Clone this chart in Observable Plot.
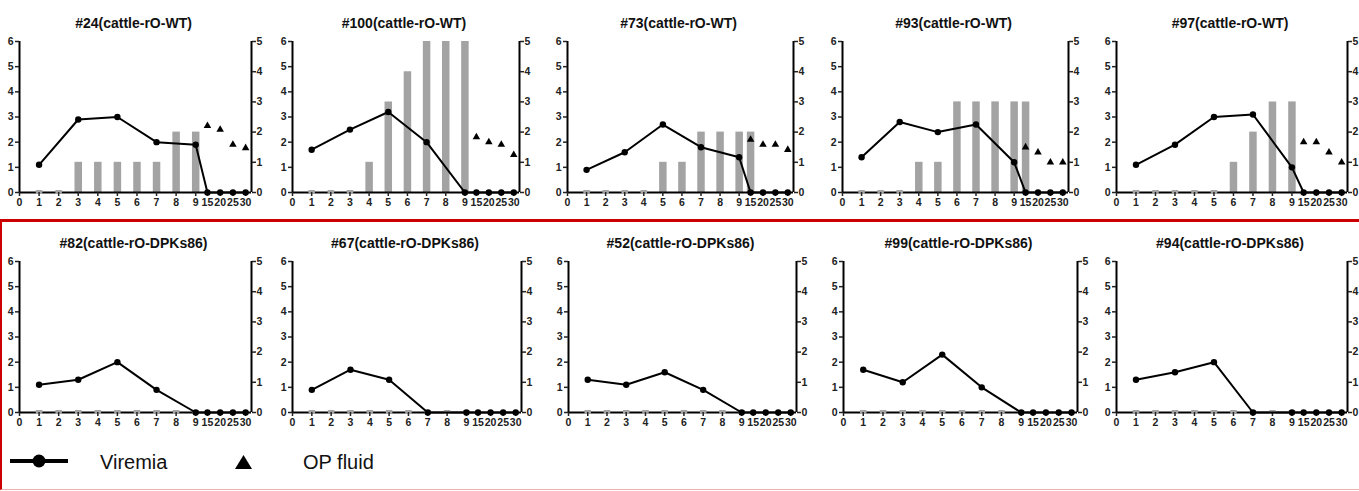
<!DOCTYPE html>
<html><head><meta charset="utf-8">
<script src="https://cdn.jsdelivr.net/npm/d3@7"></script>
<script src="https://cdn.jsdelivr.net/npm/@observablehq/plot@0.6"></script>
<style>
html,body{margin:0;padding:0;background:#fff;}
#wrap{position:relative;width:1359px;height:491px;overflow:hidden;font-family:"Liberation Sans",Arial,sans-serif;}
.panel{position:absolute;}
#box{position:absolute;left:0;top:219px;width:1370px;height:271px;box-sizing:border-box;border-top:3px solid #cc0000;border-left:2px solid #cc0000;border-bottom:1px solid #f0b0b0;}
#legend{position:absolute;left:0;top:430px;}
</style></head>
<body><div id="wrap"><div id="box"></div></div>
<script>
// ---- data ----
const tickDays = [0,1,2,3,4,5,6,7,8,9,15,20,25,30];
const viremiaDays = [1,3,5,7,9,15,20,25,30];
const lesionDays = [1,2,3,4,5,6,7,8,9,15];
const opDays = [15,20,25,30];

const titles = ["#24(cattle-rO-WT)","#100(cattle-rO-WT)","#73(cattle-rO-WT)","#93(cattle-rO-WT)","#97(cattle-rO-WT)",
  "#82(cattle-rO-DPKs86)","#67(cattle-rO-DPKs86)","#52(cattle-rO-DPKs86)","#99(cattle-rO-DPKs86)","#94(cattle-rO-DPKs86)"];

const viremia24 = [1.1,2.9,3.0,2.0,1.9,0,0,0,0];
const viremia100 = [1.7,2.5,3.2,2.0,0,0,0,0,0];
const viremia73 = [0.9,1.6,2.7,1.8,1.4,0,0,0,0];
const viremia93 = [1.4,2.8,2.4,2.7,1.2,0,0,0,0];
const viremia97 = [1.1,1.9,3.0,3.1,1.0,0,0,0,0];
const viremia82 = [1.1,1.3,2.0,0.9,0,0,0,0,0];
const viremia67 = [0.9,1.7,1.3,0,0,0,0,0,0];
const viremia52 = [1.3,1.1,1.6,0.9,0,0,0,0,0];
const viremia99 = [1.7,1.2,2.3,1.0,0,0,0,0,0];
const viremia94 = [1.3,1.6,2.0,0,0,0,0,0,0];

// lesion score (right axis, 0-5)
const lesion24 = [0,0,1,1,1,1,1,2,2,null];
const lesion100 = [0,0,0,1,3,4,5,5,5,null];
const lesion73 = [0,0,0,0,1,1,2,2,2,2];
const lesion93 = [0,0,0,1,1,3,3,3,3,3];
const lesion97 = [0,0,0,0,0,1,2,3,3,null];
const lesionNone = [0,0,0,0,0,0,0,0,0,null];

// OP fluid (left axis units)
const op24 = [2.65,2.5,1.9,1.77];
const op100 = [2.2,2.0,1.9,1.5];
const op73 = [2.1,1.9,1.9,1.7];
const op93 = [1.8,1.6,1.2,1.2];
const op97 = [2.0,2.0,1.6,1.2];
const opNone = [];

const viremiaSets = [viremia24,viremia100,viremia73,viremia93,viremia97,viremia82,viremia67,viremia52,viremia99,viremia94];
const lesionSets = [lesion24,lesion100,lesion73,lesion93,lesion97,lesionNone,lesionNone,lesionNone,lesionNone,lesionNone];
const opSets = [op24,op100,op73,op93,op97,opNone,opNone,opNone,opNone,opNone];

// ---- layout ----
const axisLeftX = [19,292,567,842,1116, 19,292,568,843,1116];
const axisRightX = [251,519,793,1068,1347, 251,521,796,1077,1347];
const rowTop = [0,0,0,0,0, 220,220,220,220,220];
const mL = 22, mR = 20, mT = 41, mB = 22, innerH = 151;
const k = 6/5; // right axis -> left axis
const xMax = 11.85;
// broken x axis: 0..9 evenly, then 15..30 compressed
const brk = d => d <= 9 ? d : 9.6 + (d - 15) / 5 * 0.65;
const tickLabel = new Map(tickDays.map(d => [brk(d), String(d)]));
const gray = "#a3a3a3";

const wrap = document.getElementById("wrap");
titles.forEach((title, i) => {
  const vData = viremiaDays.map((day, j) => ({day, v: viremiaSets[i][j]}));
  const lData = lesionDays.map((day, j) => ({day, v: lesionSets[i][j]})).filter(d => d.v !== null);
  const oData = opSets[i].map((v, j) => ({day: opDays[j], v}));
  const width = mL + (axisRightX[i] - axisLeftX[i]) + mR;
  const chart = Plot.plot({
    width, height: mT + innerH + mB,
    marginLeft: mL, marginRight: mR, marginTop: mT, marginBottom: mB,
    style: {fontFamily: "'Liberation Sans', Arial, sans-serif", fontSize: "10.5px", fontWeight: "bold", color: "#222", background: "transparent", overflow: "visible"},
    x: {domain: [0, xMax]},
    y: {domain: [0, 6]},
    marks: [
      Plot.ruleX(lData.filter(d => d.v > 0), {x: d => brk(d.day), y1: 0, y2: d => d.v * k, stroke: gray, strokeWidth: 7.5}),
      Plot.ruleX([0], {stroke: "black", strokeWidth: 2}),
      Plot.ruleX([xMax], {stroke: "black", strokeWidth: 2}),
      Plot.ruleY([0], {stroke: "black", strokeWidth: 2}),
      Plot.ruleX(lData.filter(d => d.v === 0), {x: d => brk(d.day), y1: -0.08, y2: 0.08, stroke: gray, strokeWidth: 6.5}),
      Plot.axisY({anchor: "left", ticks: [0,1,2,3,4,5,6], tickFormat: v => String(v), tickSize: 4, tickPadding: 2, strokeWidth: 1.5, label: null}),
      Plot.axisY({anchor: "right", ticks: [0,1,2,3,4,5].map(v => v * k), tickFormat: v => String(Math.round(v / k)), tickSize: 4, tickPadding: 1, strokeWidth: 1.5, label: null}),
      Plot.axisX({ticks: tickDays.map(brk), tickFormat: v => tickLabel.get(v), tickSize: 4, tickPadding: 2, strokeWidth: 1.5, label: null}),
      Plot.line(vData, {x: d => brk(d.day), y: "v", stroke: "black", strokeWidth: 2}),
      Plot.dot(vData, {x: d => brk(d.day), y: "v", r: 3.2, fill: "black"}),
      Plot.dot(oData, {x: d => brk(d.day), y: "v", symbol: "triangle", r: 2.8, fill: "black"}),
      Plot.text([title], {frameAnchor: "top", dy: -23, dx: -2, fontSize: 14, fontWeight: "bold", fill: "#111"})
    ]
  });
  chart.classList.add("panel");
  chart.style.left = (axisLeftX[i] - mL) + "px";
  chart.style.top = rowTop[i] + "px";
  wrap.appendChild(chart);
});

// legend
const ns = "http://www.w3.org/2000/svg";
const leg = document.createElementNS(ns, "svg");
leg.setAttribute("id", "legend");
leg.setAttribute("width", "420");
leg.setAttribute("height", "58");
leg.innerHTML = `
  <line x1="10" y1="31" x2="68" y2="31" stroke="black" stroke-width="4"/>
  <circle cx="39" cy="31" r="6.5" fill="black"/>
  <text x="100" y="39" font-size="20" font-family="'Liberation Sans', Arial, sans-serif" fill="#111">Viremia</text>
  <polygon points="235,39 252,39 243.5,25" fill="black"/>
  <text x="303" y="39" font-size="20" font-family="'Liberation Sans', Arial, sans-serif" fill="#111">OP fluid</text>`;
wrap.appendChild(leg);
</script>
</body></html>
